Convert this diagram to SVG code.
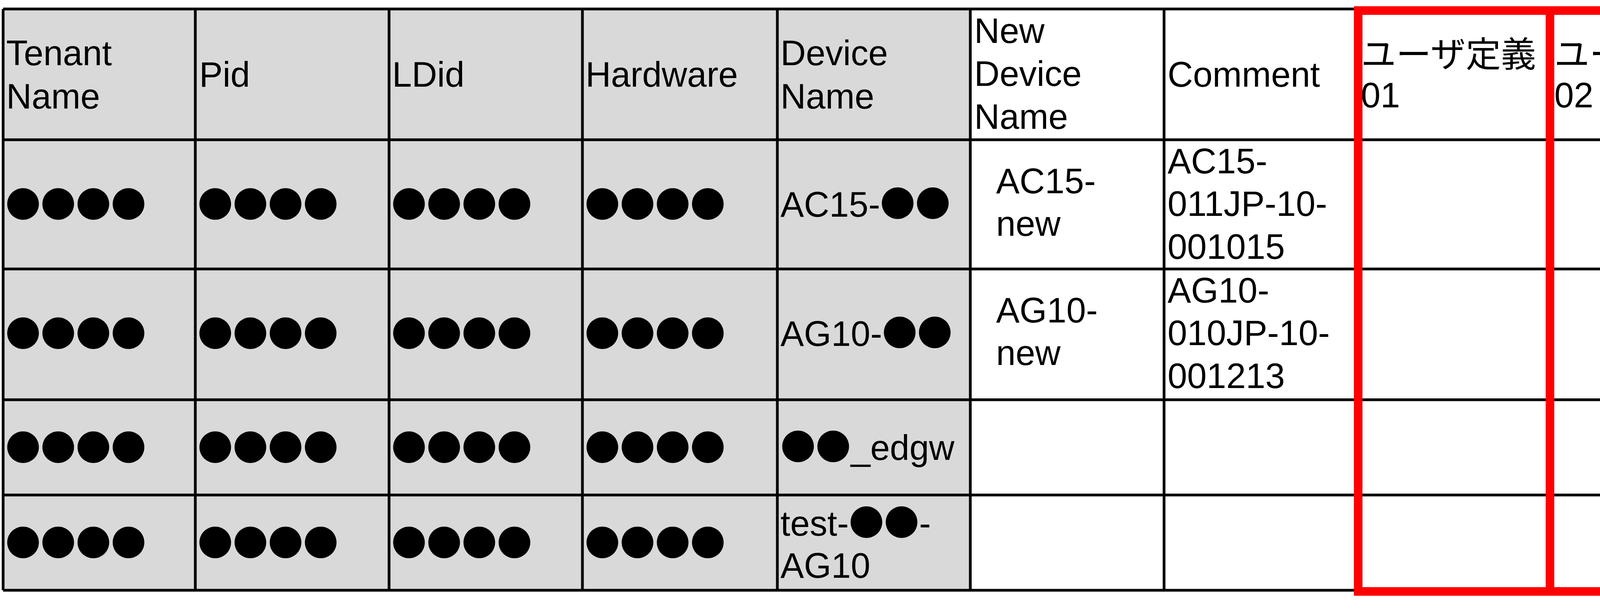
<svg xmlns="http://www.w3.org/2000/svg" width="5971" height="1560" viewBox="0 0 5971 1560">
<style>
.t{font-family:"Liberation Sans","Noto Sans CJK JP",sans-serif;font-size:90px;fill:#000}
.d{font-family:"Noto Sans CJK JP",sans-serif;font-size:90px;fill:#000}
.g{stroke:#000;stroke-width:7;fill:none}
.r{stroke:#ff0000;stroke-width:22;fill:none}
</style>
<rect width="5971" height="1560" fill="#fff"/>
<rect x="8" y="23" width="2476" height="1489" fill="#d9d9d9"/>
<g id="grid" class="g">
<path d="M8 23H5956M8 358H5956M8 689H5956M8 1024H5956M8 1268H5956M8 1512H5956"/>
<path d="M8 23V1512M500 23V1512M996 23V1512M1491 23V1512M1990 23V1512M2484 23V1512M2980 23V1512M3473 23V1512M3968 23V1512M4463 23V1512M4958 23V1512M5457 23V1512M5956 23V1512"/>
</g>
<g id="header">
<text class="t" x="16" y="167">Tenant</text><text class="t" x="16" y="278">Name</text>
<text class="t" x="510" y="222">Pid</text>
<text class="t" x="1004" y="222">LDid</text>
<text class="t" x="1499" y="222">Hardware</text>
<text class="t" x="1998" y="167">Device</text><text class="t" x="1998" y="278">Name</text>
<text class="t" x="2494" y="110">New</text><text class="t" x="2494" y="220">Device</text><text class="t" x="2494" y="330">Name</text>
<text class="t" x="2989" y="222">Comment</text>
<text class="t" x="3484" y="171">ユーザ定義</text><text class="t" x="3484" y="275">01</text>
<text class="t" x="3979" y="171">ユーザ定義</text><text class="t" x="3979" y="275">02</text>
<text class="t" x="4474" y="171">ユーザ定義</text><text class="t" x="4474" y="275">03</text>
<text class="t" x="4969" y="171">ユーザ定義</text><text class="t" x="4969" y="275">04</text>
<text class="t" x="5468" y="171">ユーザ定義</text><text class="t" x="5468" y="275">05</text>
</g>
<g id="dots">
<text class="d" x="14" y="557">●●●●</text><text class="d" x="506" y="557">●●●●</text><text class="d" x="1002" y="557">●●●●</text><text class="d" x="1497" y="557">●●●●</text>
<text class="d" x="14" y="888">●●●●</text><text class="d" x="506" y="888">●●●●</text><text class="d" x="1002" y="888">●●●●</text><text class="d" x="1497" y="888">●●●●</text>
<text class="d" x="14" y="1180">●●●●</text><text class="d" x="506" y="1180">●●●●</text><text class="d" x="1002" y="1180">●●●●</text><text class="d" x="1497" y="1180">●●●●</text>
<text class="d" x="14" y="1424">●●●●</text><text class="d" x="506" y="1424">●●●●</text><text class="d" x="1002" y="1424">●●●●</text><text class="d" x="1497" y="1424">●●●●</text>
</g>
<g id="device">
<text class="t" x="1998" y="555">AC15-<tspan class="d">●●</tspan></text>
<text class="t" x="1998" y="886">AG10-<tspan class="d">●●</tspan></text>
<text class="t" x="1998" y="1178"><tspan class="d">●●</tspan>_edgw</text>
<text class="t" x="1998" y="1372">test-<tspan class="d">●●</tspan>-</text><text class="t" x="1998" y="1480">AG10</text>
</g>
<g id="newname">
<text class="t" x="2550" y="495">AC15-</text><text class="t" x="2550" y="604">new</text>
<text class="t" x="2550" y="826">AG10-</text><text class="t" x="2550" y="935">new</text>
</g>
<g id="comment">
<text class="t" x="2989" y="444">AC15-</text><text class="t" x="2989" y="553">011JP-10-</text><text class="t" x="2989" y="663">001015</text>
<text class="t" x="2989" y="775">AG10-</text><text class="t" x="2989" y="884">010JP-10-</text><text class="t" x="2989" y="994">001213</text>
</g>
<g id="highlight" class="r">
<rect x="3477" y="27" width="491" height="1488"/>
<rect x="3968" y="27" width="495" height="1488"/>
<rect x="4463" y="27" width="495" height="1488"/>
<rect x="4958" y="27" width="499" height="1488"/>
<rect x="5457" y="27" width="499" height="1488"/>
</g>
</svg>
